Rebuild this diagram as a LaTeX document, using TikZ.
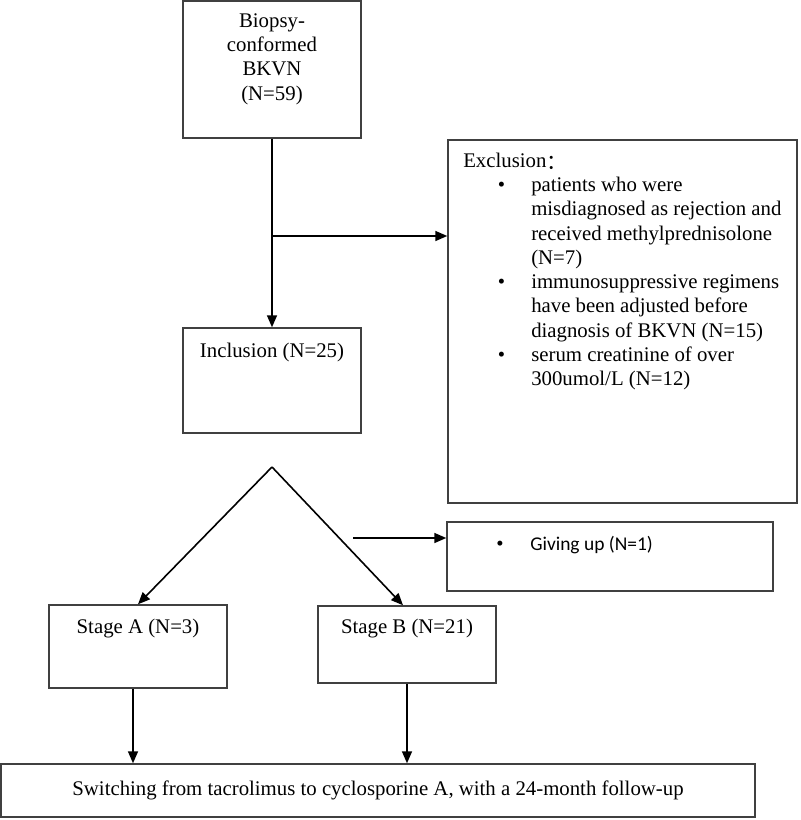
\documentclass[tikz,border=0pt]{standalone}
\usepackage{fontspec}
\setmainfont{Liberation Serif}
\newfontfamily\givingfont{Carlito}
\newfontfamily\cjk{Noto Sans CJK SC}
\usetikzlibrary{arrows.meta,positioning}

\tikzset{
  box/.style={draw=black!75, line width=1.1pt, rectangle, inner sep=0pt},
  txt/.style={inner sep=0pt, font=\fontsize{15.6}{18.2}\selectfont},
  arrow/.style={line width=1.2pt, -{Triangle[length=9pt,width=7.5pt]}}
}

\begin{document}
\begin{tikzpicture}[x=0.75pt,y=-0.75pt]
  \useasboundingbox (0,0) rectangle (800,820);

  %Boxes
  \node[box, minimum width=133.5pt, minimum height=102.75pt] (bkvn) at (272,69.5) {};
  \node[box, minimum width=261.75pt, minimum height=272.25pt] (excl) at (622.5,321.5) {};
  \node[box, minimum width=133.5pt, minimum height=78.75pt] (incl) at (272,380.5) {};
  \node[box, minimum width=244.5pt, minimum height=51.75pt] (giving) at (610,556.5) {};
  \node[box, minimum width=133.5pt, minimum height=62.25pt] (stagea) at (138,646.5) {};
  \node[box, minimum width=133.5pt, minimum height=57.75pt] (stageb) at (407,644.5) {};
  \node[box, txt, minimum width=565.5pt, minimum height=39.75pt] (final) at (378,790.5)
    {Switching from tacrolimus to cyclosporine A, with a 24-month follow-up};

  %Texts
  \node[txt, align=center] (bkvnlbl) at (272,59) {Biopsy-\\conformed\\BKVN\\(N=59)};
  \node[txt] (incllbl) at (272,352) {Inclusion (N=25)};
  \node[txt] (stagealbl) at (138,629) {Stage A (N=3)};
  \node[txt] (stageblbl) at (407,629) {Stage B (N=21)};
  \node[txt, anchor=north west] (excllbl) at (463,150) {%
    \begin{tabular}{@{}p{51pt}@{}l@{}}
      \multicolumn{2}{@{}l@{}}{Exclusion\raisebox{-1.5pt}{\cjk ：}}\\
      \hspace*{26pt}\textbullet & patients who were\\
        & misdiagnosed as rejection and\\
        & received methylprednisolone\\
        & (N=7)\\
      \hspace*{26pt}\textbullet & immunosuppressive regimens\\
        & have been adjusted before\\
        & diagnosis of BKVN (N=15)\\
      \hspace*{26pt}\textbullet & serum creatinine of over\\
        & 300umol/L (N=12)
    \end{tabular}};
  \node[inner sep=0pt, anchor=west, font=\givingfont\fontsize{14.6}{17}\selectfont]
    (givinglbl) at (496,545) {\makebox[25.5pt][l]{\rmfamily\fontsize{15.6}{18}\selectfont\textbullet}Giving up (N=1)};

  %Connectors
  \coordinate (split) at (272,236);
  \coordinate (fork) at (272,467);
  \coordinate (skip) at (353,538);
  \draw[arrow] (bkvn.south) -- (incl.north);
  \draw[arrow] (split) -- (split -| excl.west);
  \draw[arrow] (fork) -- (stagea.north);
  \draw[arrow] (fork) -- ([xshift=-3pt]stageb.north);
  \draw[arrow] (skip) -- (skip -| giving.west);
  \draw[arrow] ([xshift=-3.75pt]stagea.south) -- ([xshift=-3.75pt]stagea.south |- final.north);
  \draw[arrow] (stageb.south) -- (stageb.south |- final.north);
\end{tikzpicture}
\end{document}
